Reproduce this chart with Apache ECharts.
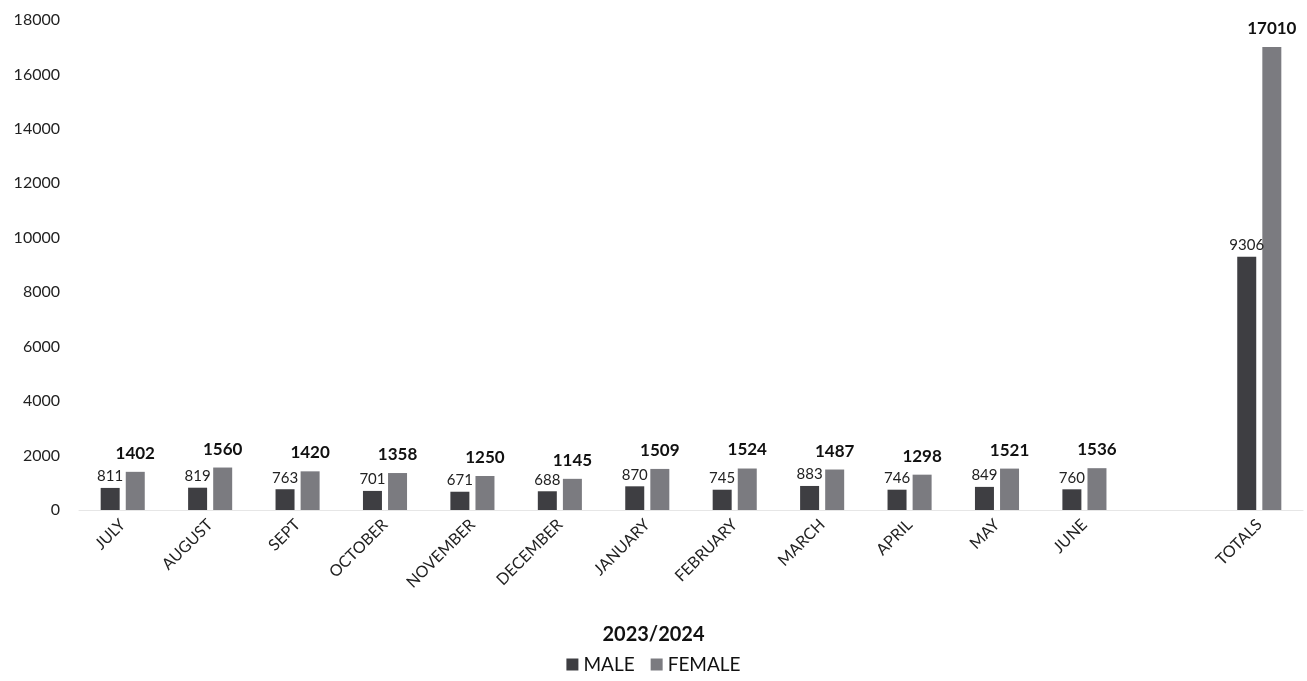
<!DOCTYPE html>
<html>
<head>
<meta charset="utf-8">
<script src="https://cdn.jsdelivr.net/npm/echarts@6/dist/echarts.min.js"></script>
<style>
  html, body { margin: 0; padding: 0; background: #fff; }
  #chart { width: 1307px; height: 681px; }
</style>
</head>
<body>
<div id="chart"></div>
<script>
// months plus a blank slot before the totals column
const categories = ['JULY', 'AUGUST', 'SEPT', 'OCTOBER', 'NOVEMBER', 'DECEMBER', 'JANUARY',
  'FEBRUARY', 'MARCH', 'APRIL', 'MAY', 'JUNE', '', 'TOTALS'];
const maleValues = [811, 819, 763, 701, 671, 688, 870, 745, 883, 746, 849, 760, null, 9306];
const femaleValues = [1402, 1560, 1420, 1358, 1250, 1145, 1509, 1524, 1487, 1298, 1521, 1536, null, 17010];

const FONT = 'Lato, "Open Sans", sans-serif';

const chart = echarts.init(document.getElementById('chart'));

chart.setOption({
  animation: false,
  textStyle: { fontFamily: FONT },
  title: {
    text: '2023/2024',
    left: 'center',
    top: 620,
    textStyle: { fontFamily: FONT, fontSize: 20, fontWeight: 'bold', color: '#111' }
  },
  legend: {
    bottom: 2,
    left: 'center',
    itemWidth: 12,
    itemHeight: 12,
    itemGap: 16,
    icon: 'rect',
    textStyle: { fontFamily: FONT, fontSize: 19, color: '#111' },
    data: ['MALE', 'FEMALE']
  },
  grid: { left: 79, right: 4, top: 20, bottom: 171 },
  xAxis: {
    type: 'category',
    data: categories,
    axisLine: { show: true, lineStyle: { color: '#e6e6e6' } },
    axisTick: { show: false },
    axisLabel: {
      rotate: 45,
      interval: 0,
      margin: 12,
      fontSize: 16,
      color: '#222',
      fontFamily: FONT
    }
  },
  yAxis: {
    type: 'value',
    min: 0,
    max: 18000,
    interval: 2000,
    splitLine: { show: false },
    axisLine: { show: false },
    axisTick: { show: false },
    axisLabel: {
      fontSize: 16,
      color: '#222',
      margin: 19,
      fontFamily: FONT,
      formatter: function (v) { return String(v); }
    }
  },
  series: [
    {
      name: 'MALE',
      type: 'bar',
      data: maleValues,
      barWidth: 19,
      barGap: '32%',
      itemStyle: { color: '#3e3e42' },
      label: {
        show: true,
        position: 'top',
        distance: 4,
        fontSize: 15,
        color: '#222',
        fontFamily: FONT
      }
    },
    {
      name: 'FEMALE',
      type: 'bar',
      data: femaleValues,
      barWidth: 19,
      itemStyle: { color: '#7b7b80' },
      label: {
        show: true,
        position: 'top',
        distance: 10,
        fontSize: 17,
        fontWeight: 'bold',
        color: '#111',
        fontFamily: FONT
      }
    }
  ]
});
</script>
</body>
</html>
